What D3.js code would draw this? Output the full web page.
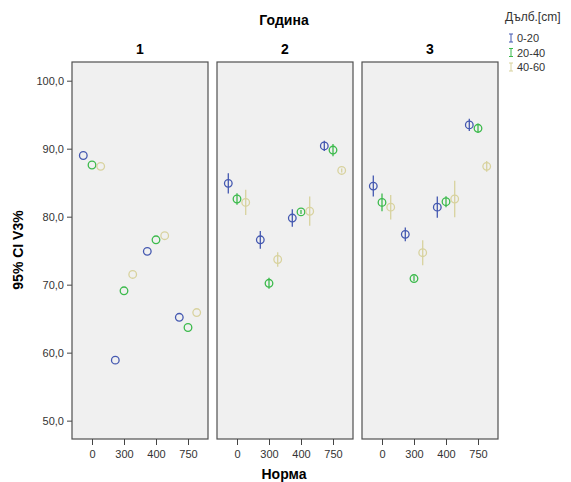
<!DOCTYPE html>
<html>
<head>
<meta charset="utf-8">
<script src="https://cdn.jsdelivr.net/npm/d3@7"></script>
<style>
  body { margin: 0; background: #fff; }
  text { font-family: "Liberation Sans", Arial, sans-serif; }
</style>
</head>
<body>
<div id="chart"></div>
<script>
// facets (Година), x categories (Норма), groups (Дълб.[cm])
const years = ["1", "2", "3"];
const norms = ["0", "300", "400", "750"];
const depths = ["0-20", "20-40", "40-60"];
const colors = ["#4458b0", "#3cba4c", "#d8d29e"];

// mean values per year, per depth, per norm
const mean1 = [[89.0, 58.9, 74.9, 65.2], [87.6, 69.1, 76.6, 63.7], [87.4, 71.5, 77.2, 65.9]];
const mean2 = [[84.9, 76.6, 79.8, 90.4], [82.6, 70.2, 80.7, 89.8], [82.1, 73.7, 80.8, 86.8]];
const mean3 = [[84.5, 77.4, 81.4, 93.5], [82.1, 70.9, 82.2, 93.0], [81.4, 74.7, 82.6, 87.4]];
// half width of the 95% CI
const ci1 = [[0, 0, 0, 0], [0, 0, 0, 0], [0, 0, 0, 0]];
const ci2 = [[1.5, 1.3, 1.3, 0.75], [0.85, 0.8, 0.3, 0.9], [1.85, 1.05, 2.15, 0.3]];
const ci3 = [[1.55, 1.0, 1.55, 0.9], [1.3, 0.4, 0.8, 0.7], [1.8, 1.85, 2.7, 0.8]];
const yTicks = [50, 60, 70, 80, 90, 100];

const means = [mean1, mean2, mean3];
const cis = [ci1, ci2, ci3];

const width = 571, height = 482;
const panelW = 136, gap = 9, left0 = 72, topY = 62, bottomY = 439;

const svg = d3.select("#chart").append("svg")
    .attr("width", width).attr("height", height);

const y = d3.scaleLinear().domain([47.3, 102.75]).range([bottomY, topY]);
const x = d3.scalePoint().domain(norms).range([0, panelW]).padding(0.625);
const dx = d3.scalePoint().domain(depths).range([-8.7, 8.7]);
const col = d3.scaleOrdinal().domain(depths).range(colors);
const fmt = d => d3.format(".1f")(d).replace(".", ",");

// y axis
const ya = svg.append("g").attr("transform", `translate(${left0},0)`)
    .call(d3.axisLeft(y).tickValues(yTicks).tickFormat(fmt).tickSize(5).tickSizeOuter(0));
ya.select(".domain").remove();
ya.selectAll("line").attr("stroke", "#444");
ya.selectAll("text").attr("font-size", 11).attr("fill", "#333").style("font-family", "Liberation Sans, Arial");

years.forEach((yr, i) => {
  const px = left0 + i * (panelW + gap);
  const g = svg.append("g").attr("transform", `translate(${px},0)`);
  g.append("rect").attr("x", 0).attr("y", topY).attr("width", panelW).attr("height", bottomY - topY)
    .attr("fill", "#f0f0f0").attr("stroke", "#505050").attr("stroke-width", 1.2);

  const xa = g.append("g").attr("transform", `translate(0,${bottomY})`)
    .call(d3.axisBottom(x).tickSize(6).tickSizeOuter(0));
  xa.select(".domain").remove();
  xa.selectAll("line").attr("stroke", "#444");
  xa.selectAll("text").attr("font-size", 11).attr("fill", "#333").attr("dy", "0.9em")
    .style("font-family", "Liberation Sans, Arial");

  g.append("text").attr("x", panelW / 2).attr("y", 54).attr("text-anchor", "middle")
    .attr("font-size", 14).attr("font-weight", "bold").text(yr);

  const pts = [];
  depths.forEach((d, j) => norms.forEach((n, k) => {
    pts.push({ d, n, v: means[i][j][k], e: cis[i][j][k] });
  }));

  g.selectAll("line.err").data(pts.filter(p => p.e > 0)).join("line")
    .attr("class", "err")
    .attr("x1", p => x(p.n) + dx(p.d)).attr("x2", p => x(p.n) + dx(p.d))
    .attr("y1", p => y(p.v - p.e)).attr("y2", p => y(p.v + p.e))
    .attr("stroke", p => col(p.d)).attr("stroke-width", 1.3);

  g.selectAll("circle.pt").data(pts).join("circle")
    .attr("class", "pt")
    .attr("cx", p => x(p.n) + dx(p.d)).attr("cy", p => y(p.v)).attr("r", 3.8)
    .attr("fill", "none").attr("stroke", p => col(p.d)).attr("stroke-width", 1.3);
});

// titles
svg.append("text").attr("x", 284).attr("y", 25).attr("text-anchor", "middle")
  .attr("font-size", 14).attr("font-weight", "bold").text("Година");
svg.append("text").attr("x", 284).attr("y", 479).attr("text-anchor", "middle")
  .attr("font-size", 14).attr("font-weight", "bold").text("Норма");
svg.append("text").attr("transform", "translate(23,250) rotate(-90)").attr("text-anchor", "middle")
  .attr("font-size", 14).attr("font-weight", "bold").text("95% CI V3%");

// legend
const lg = svg.append("g").attr("transform", "translate(505,0)");
lg.append("text").attr("x", 0).attr("y", 21).attr("font-size", 12).attr("fill", "#333").text("Дълб.[cm]");
depths.forEach((d, j) => {
  const cy = 38 + j * 14.5;
  const c = col(d);
  lg.append("line").attr("x1", 6).attr("x2", 6).attr("y1", cy - 4).attr("y2", cy + 4).attr("stroke", c);
  lg.append("line").attr("x1", 4).attr("x2", 8).attr("y1", cy - 4).attr("y2", cy - 4).attr("stroke", c);
  lg.append("line").attr("x1", 4).attr("x2", 8).attr("y1", cy + 4).attr("y2", cy + 4).attr("stroke", c);
  lg.append("text").attr("x", 12).attr("y", cy + 4).attr("font-size", 11).attr("fill", "#333").text(d);
});
</script>
</body>
</html>
